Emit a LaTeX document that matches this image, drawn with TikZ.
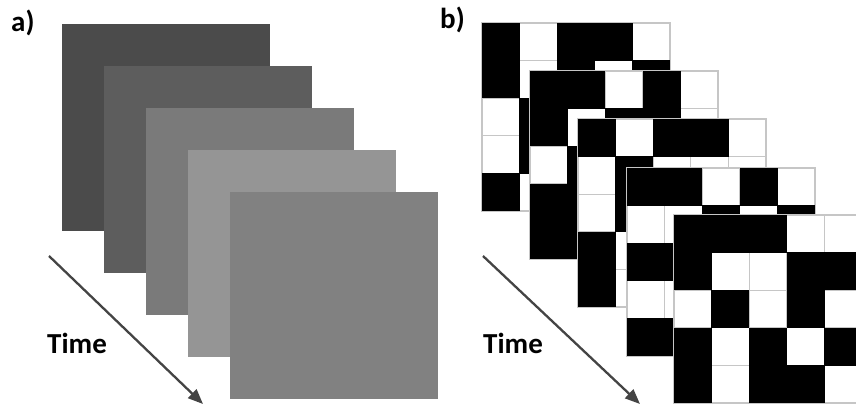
\documentclass[tikz,border=0pt]{standalone}
\usepackage{fontspec}
\setmainfont{Carlito}
\usetikzlibrary{arrows.meta,calc}
\definecolor{sqA}{HTML}{4B4B4B}
\definecolor{sqB}{HTML}{5D5D5D}
\definecolor{sqC}{HTML}{7A7A7A}
\definecolor{sqD}{HTML}{959595}
\definecolor{sqE}{HTML}{818181}
\definecolor{arrowgray}{HTML}{444444}
\definecolor{linegray}{HTML}{C6C6C6}
\tikzset{
  plate/.style={inner sep=0pt, outer sep=0pt, minimum width=208pt, minimum height=207pt, anchor=north west, draw=none},
  gridframe/.style={inner sep=0pt, outer sep=0pt, minimum width=188pt, minimum height=188pt, anchor=north west, fill=white, draw=linegray, line width=1.2pt},
  gridline/.style={draw=linegray, line width=1.2pt},
  cellfill/.style={fill=black},
  lbl/.style={font=\fontsize{29}{30}\selectfont\bfseries, inner sep=0pt, anchor=base west},
  timearrow/.style={draw=arrowgray, line width=2.3pt, -{Triangle[length=15pt,width=12pt]}},
}
\newcommand\cellgrid[3]{%
  \node[gridframe] (#1) at (#2) {};
  \foreach \k in {1,...,4} {
    \draw[gridline] ($(#1.north west)+(\k*37.6,0)$) -- ++(0,188);
    \draw[gridline] ($(#1.north west)+(0,\k*37.6)$) -- ++(188,0);
  }
  \foreach \row [count=\r from 0] in {#3} {
    \foreach \v [count=\c from 0] in \row {
      \ifnum\v=1
        \fill[cellfill] ($(#1.north west)+(\c*37.6-0.2,\r*37.6-0.2)$) rectangle ++(38.0,38.0);
      \fi
    }
  }
}
\begin{document}
\begin{tikzpicture}[x=1pt,y=-1pt]
\useasboundingbox (0,0) rectangle (856,404);
\clip (0,0) rectangle (856,404);
% panel a
\node[plate, fill=sqA] (a1) at (62,24) {};
\node[plate, fill=sqB] (a2) at (104,66) {};
\node[plate, fill=sqC] (a3) at (146,108) {};
\node[plate, fill=sqD] (a4) at (188,150) {};
\node[plate, fill=sqE] (a5) at (230,192) {};
\node[lbl] (la) at (11,32) {a)};
\node[lbl] (ta) at (47,353) {Time};
\coordinate (as) at (49,256);
\coordinate (ae) at (203,404);
\draw[timearrow] (as) -- (ae);
% panel b
\cellgrid{g1}{482,23}{{1,0,1,1,0},{1,0,1,0,1},{0,1,0,1,0},{0,1,1,0,1},{1,0,0,1,0}}
\cellgrid{g2}{530,71}{{1,1,0,1,0},{1,0,1,1,0},{0,1,0,0,1},{1,1,0,1,0},{1,1,1,0,1}}
\cellgrid{g3}{578,119}{{1,0,1,1,0},{0,1,0,0,0},{0,1,1,0,1},{1,0,0,1,0},{1,0,1,0,1}}
\cellgrid{g4}{627,168}{{1,1,0,1,0},{0,0,1,0,1},{1,1,0,1,0},{0,0,1,0,1},{1,1,0,1,1}}
\cellgrid{g5}{674,215}{{1,1,1,0,0},{1,0,0,1,1},{0,1,0,1,0},{1,0,1,0,1},{1,0,1,1,0}}
\node[lbl] (lb) at (440,29) {b)};
\node[lbl] (tb) at (483,353) {Time};
\coordinate (bs) at (483,256);
\coordinate (be) at (640,404);
\draw[timearrow] (bs) -- (be);
\end{tikzpicture}
\end{document}
